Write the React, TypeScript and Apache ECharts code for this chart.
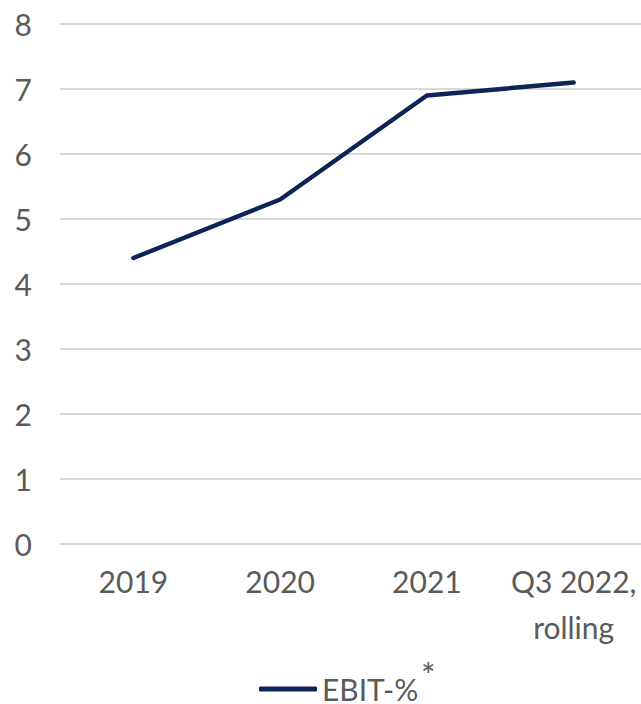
import React, { useEffect, useRef } from "react";
import * as echarts from "echarts";

const categories = ["2019", "2020", "2021", "Q3 2022,\nrolling"];
const ebitValues = [4.4, 5.3, 6.9, 7.1];
const seriesName = "EBIT-%";
const footnoteMark = "*";

export default function App() {
  const ref = useRef<HTMLDivElement>(null);
  useEffect(() => {
    document.body.style.margin = "0";
    const chart = echarts.init(ref.current!, null, { renderer: "svg" });
    const font = "Lato";
    const grey = "#5a5a5a";
    const navy = "#0d2459";
    chart.setOption({
      animation: false,
      grid: { left: 60, right: 0, top: 24, bottom: 160, containLabel: false },
      legend: {
        top: 674,
        left: 259,
        padding: 0,
        itemWidth: 58,
        itemHeight: 5,
        itemGap: 3,
        icon: "roundRect",
        data: [{ name: seriesName, itemStyle: { color: navy } }],
        textStyle: { fontFamily: font, fontSize: 30, color: grey, lineHeight: 28 },
      },
      graphic: [
        {
          type: "text",
          left: 421,
          top: 657,
          style: { text: footnoteMark, fontFamily: font, fontSize: 34, fill: grey },
        },
      ],
      xAxis: {
        type: "category",
        data: categories,
        boundaryGap: true,
        axisLine: { show: false },
        axisTick: { show: false },
        axisLabel: { fontFamily: font, fontSize: 30, color: grey, margin: 14, lineHeight: 46, interval: 0 },
      },
      yAxis: {
        type: "value",
        min: 0,
        max: 8,
        interval: 1,
        axisLine: { show: false },
        axisTick: { show: false },
        splitLine: { lineStyle: { color: "#d9d9d9", width: 2 } },
        axisLabel: { fontFamily: font, fontSize: 30, color: grey, margin: 28 },
      },
      series: [
        {
          name: seriesName,
          type: "line",
          data: ebitValues,
          symbol: "none",
          lineStyle: { color: navy, width: 4.5, cap: "round", join: "round" },
          itemStyle: { color: navy },
        },
      ],
    });
    return () => chart.dispose();
  }, []);
  return (
    <div style={{ width: 641, height: 704, overflow: "hidden" }}>
      <div ref={ref} style={{ width: 647, height: 704 }} />
    </div>
  );
}
